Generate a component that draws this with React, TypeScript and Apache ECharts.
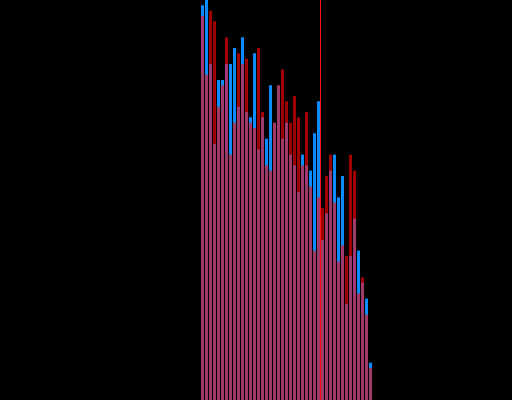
import React, { useEffect, useRef } from "react";
import * as echarts from "echarts";

// x positions (bin index) of each column
const bins: number[] = Array.from({ length: 43 }, (_, i) => i);
// base (pink) bar values
const baseValues: number[] = [72, 61, 63, 48, 55, 59, 63, 46, 52, 55, 63, 54, 52, 51, 47, 53, 44, 43, 52, 59, 49, 52, 46, 44, 39, 44, 44, 40, 28, 38, 30, 35, 43, 37, 26, 29, 18, 27, 34, 20, 22, 16, 6];
// rising (blue) bar values
const upValues: (number | null)[] = [74, 75, null, null, 60, 60, null, 63, 66, null, 68, null, 53, 65, null, null, 49, 59, null, null, null, null, null, null, null, 46, null, 43, 50, 56, null, null, null, 46, 38, 42, null, null, null, 28, null, 19, 7];
// falling (dark red) bar values
const downValues: (number | null)[] = [null, null, 73, 71, null, null, 68, null, null, 65, null, 64, null, null, 66, 54, null, null, null, null, 62, 56, 52, 57, 53, null, 54, null, null, null, 36, 42, 46, null, null, null, 27, 46, 43, null, 23, null, null];
// marker position
const markerX = 30;
const yMax = 75;

export default function App() {
  const ref = useRef<HTMLDivElement>(null);
  useEffect(() => {
    if (!ref.current) return;
    const chart = echarts.init(ref.current, null, { renderer: "svg" });
    const toPts = (arr: (number | null)[]) =>
      arr.map((v, i) => (v == null ? [bins[i] + 0.5, null] : [bins[i] + 0.5, v]));
    chart.setOption({
      animation: false,
      backgroundColor: "#000000",
      grid: { left: 200.5, width: 172, top: 0, bottom: 0 },
      xAxis: { type: "value", min: 0, max: bins.length, show: false },
      yAxis: { type: "value", min: 0, max: yMax, show: false },
      series: [
        {
          type: "bar",
          barWidth: 3,
          barGap: "-100%",
          data: toPts(upValues),
          itemStyle: { color: "#0a8cff" },
        },
        {
          type: "bar",
          barWidth: 3,
          barGap: "-100%",
          data: toPts(downValues),
          itemStyle: { color: "#a00000" },
        },
        {
          type: "bar",
          barWidth: 3,
          barGap: "-100%",
          data: toPts(baseValues),
          itemStyle: { color: "#a03a6a" },
          markLine: {
            silent: true,
            symbol: "none",
            label: { show: false },
            lineStyle: { color: "#ff1111", width: 1, type: "solid" },
            data: [{ xAxis: markerX }],
          },
        },
      ],
    });
    return () => chart.dispose();
  }, []);
  return (
    <div
      ref={ref}
      style={{ position: "fixed", left: 0, top: 0, width: 512, height: 400 }}
    />
  );
}
